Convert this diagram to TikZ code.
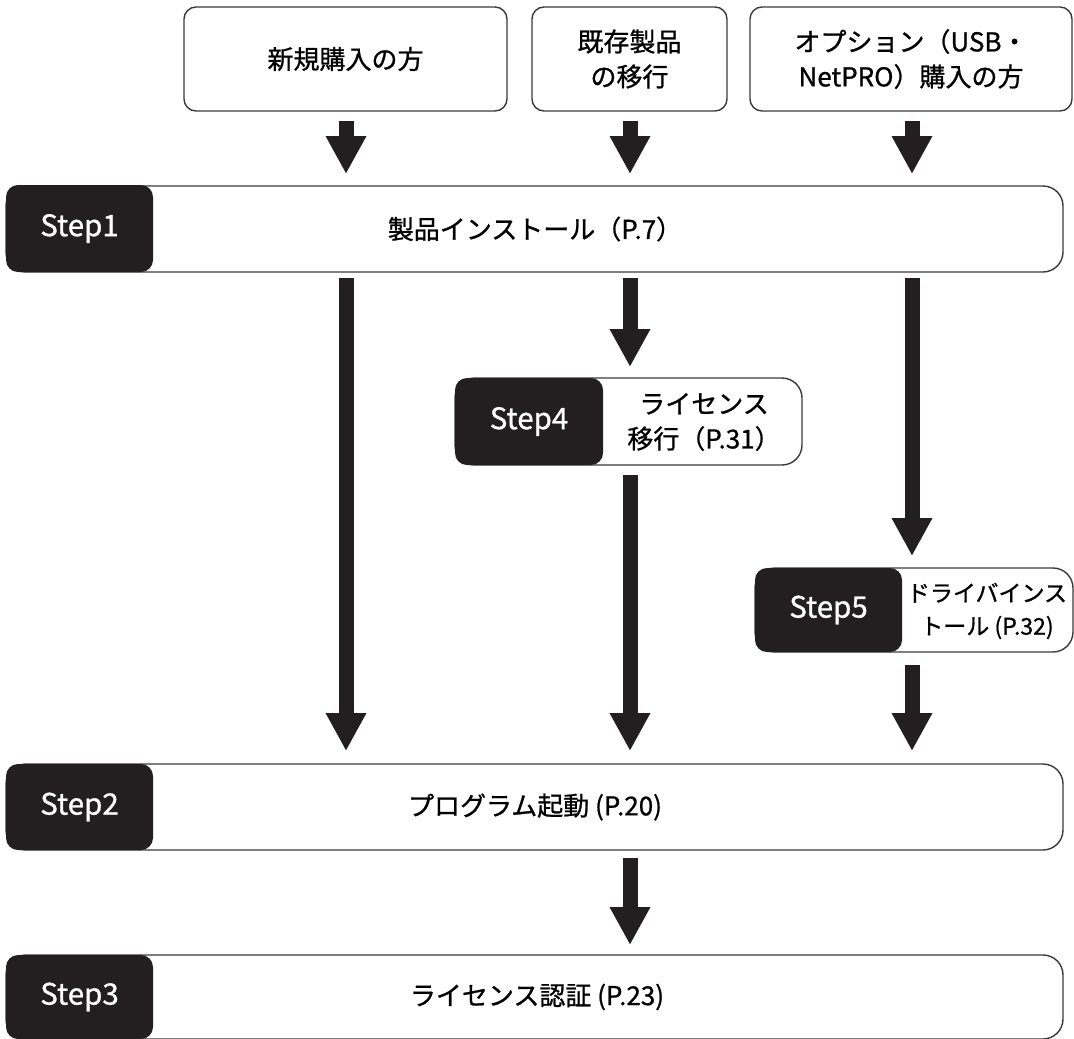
\documentclass[tikz,border=0pt]{standalone}
\usepackage{fontspec}
\setmainfont{Noto Sans CJK JP}[FakeBold=0.9]
\usetikzlibrary{arrows.meta}
\definecolor{ink}{HTML}{231F20}
\definecolor{edge}{HTML}{3A3A3A}
\begin{document}
\begin{tikzpicture}[x=1pt,y=-1pt,
  topbox/.style={draw=edge, line width=1.4pt, rounded corners=12pt, fill=white, align=center,
    font=\fontsize{26}{35}\selectfont, inner sep=0pt},
  bar/.style={draw=edge, line width=1.4pt, rounded corners=20pt, fill=white, inner sep=0pt},
  tab/.style={fill=ink, rounded corners=12pt, text=white, font=\fontsize{29.5}{34}\selectfont, inner sep=0pt},
  lbl/.style={font=\fontsize{26}{35}\selectfont, align=center, inner sep=0pt},
  blk/.style={line width=15pt, draw=ink, -{Triangle[width=38pt,length=38pt]}}]
\useasboundingbox (0,0) rectangle (1074,1039);

% top boxes
\node[topbox, minimum width=323pt, minimum height=104pt] (new) at (345.5,59) {新規購入の方};
\node[topbox, minimum width=195pt, minimum height=104pt] (old) at (629.5,59) {既存製品\\の移行};
\node[topbox, minimum width=322pt, minimum height=104pt] (opt) at (911,59) {オプション（USB・\\NetPRO）購入の方};

% Step1
\node[bar, minimum width=1057pt, minimum height=86pt] (s1bar) at (534.5,229) {};
\node[tab, minimum width=147pt, minimum height=87pt] (s1tab) at (79.5,228.5) {Step1};
\node[lbl] (s1txt) at (535,229) {製品インストール（P.7）};

% Step4
\node[bar, minimum width=347pt, minimum height=87pt] (s4bar) at (628.5,421.5) {};
\node[tab, minimum width=148pt, minimum height=87pt] (s4tab) at (529,421.5) {Step4};
\node[lbl] (s4txt) at (704,422) {ライセンス\\移行（P.31）};

% Step5
\node[bar, minimum width=318pt, minimum height=84pt] (s5bar) at (914,610) {};
\node[tab, minimum width=147pt, minimum height=84pt] (s5tab) at (828.5,610) {Step5};
\node[lbl, font=\fontsize{23}{33}\selectfont] (s5txt) at (987,611) {ドライバインス\\トール (P.32)};

% Step2
\node[bar, minimum width=1057pt, minimum height=86pt] (s2bar) at (534.5,807) {};
\node[tab, minimum width=147pt, minimum height=86pt] (s2tab) at (79.5,807) {Step2};
\node[lbl] (s2txt) at (535,807) {プログラム起動 (P.20)};

% Step3
\node[bar, minimum width=1057pt, minimum height=84pt] (s3bar) at (534.5,997) {};
\node[tab, minimum width=147pt, minimum height=84pt] (s3tab) at (79.5,997) {Step3};
\node[lbl] (s3txt) at (537,997) {ライセンス認証 (P.23)};

% arrow end points
\coordinate (a1s) at (346,121); \coordinate (a1e) at (346,174);
\coordinate (a2s) at (630,121); \coordinate (a2e) at (630,174);
\coordinate (a3s) at (912,121); \coordinate (a3e) at (912,174);
\coordinate (b1s) at (346,278); \coordinate (b1e) at (346,751);
\coordinate (b2s) at (630,278); \coordinate (b2e) at (630,367);
\coordinate (b3s) at (912,278); \coordinate (b3e) at (912,556);
\coordinate (c2s) at (630,475); \coordinate (c2e) at (630,751);
\coordinate (c3s) at (912,665); \coordinate (c3e) at (912,751);
\coordinate (ds) at (630,858);  \coordinate (de) at (630,945);

\draw[blk] (a1s) -- (a1e);
\draw[blk] (a2s) -- (a2e);
\draw[blk] (a3s) -- (a3e);
\draw[blk] (b1s) -- (b1e);
\draw[blk] (b2s) -- (b2e);
\draw[blk] (b3s) -- (b3e);
\draw[blk] (c2s) -- (c2e);
\draw[blk] (c3s) -- (c3e);
\draw[blk] (ds) -- (de);
\end{tikzpicture}
\end{document}
